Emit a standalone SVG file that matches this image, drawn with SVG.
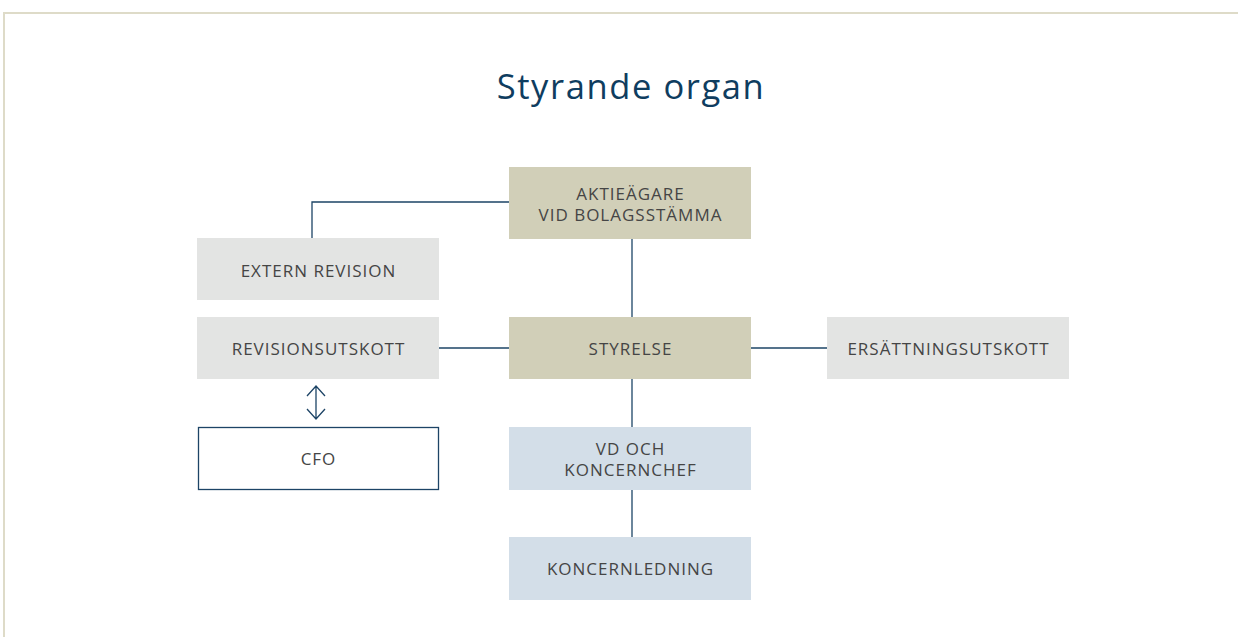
<svg xmlns="http://www.w3.org/2000/svg" width="1238" height="637" viewBox="0 0 1238 637">
<style>
.lbl{font-family:"Open Sans","Noto Sans",sans-serif;font-size:17px;letter-spacing:1px;fill:#454545;text-anchor:middle}
.ttl{font-family:"Open Sans","Noto Sans",sans-serif;font-size:34.5px;letter-spacing:1.6px;fill:#0f3d5f;text-anchor:middle}
.beige{fill:#d1cfb8}
.gray{fill:#e3e4e3}
.blue{fill:#d3dee8}
.con{stroke:#1d4466;stroke-width:1.3;fill:none}
</style>
<rect x="0" y="0" width="1238" height="637" fill="#ffffff"/>
<path d="M4,637 V13 H1238" fill="none" stroke="#dedbc8" stroke-width="2"/>
<text class="ttl" x="631" y="99">Styrande organ</text>
<g id="connectors">
<path class="con" d="M312,238 V202 H509"/>
<path class="con" d="M632,238 V317"/>
<path class="con" d="M632,379 V427"/>
<path class="con" d="M632,490 V537"/>
<path class="con" d="M439,348 H509"/>
<path class="con" d="M751,348 H827"/>
<path class="con" d="M316,386 V419 M307,396 L316,386 L325,396 M307,409 L316,419 L325,409"/>
</g>
<g id="aktieagare">
<rect class="beige" x="509" y="167" width="242" height="72"/>
<text class="lbl"><tspan x="630.5" y="199.5">AKTIEÄGARE</tspan><tspan x="630.5" y="220.5">VID BOLAGSSTÄMMA</tspan></text>
</g>
<g id="extern-revision">
<rect class="gray" x="197" y="238" width="242" height="62"/>
<text class="lbl" x="318.5" y="276.5">EXTERN REVISION</text>
</g>
<g id="revisionsutskott">
<rect class="gray" x="197" y="317" width="242" height="62"/>
<text class="lbl" x="318.5" y="355">REVISIONSUTSKOTT</text>
</g>
<g id="cfo">
<rect x="198.5" y="427.5" width="240" height="62" fill="#ffffff" stroke="#1d4466" stroke-width="1.3"/>
<text class="lbl" x="318.5" y="465">CFO</text>
</g>
<g id="styrelse">
<rect class="beige" x="509" y="317" width="242" height="62"/>
<text class="lbl" x="630.5" y="355">STYRELSE</text>
</g>
<g id="ersattningsutskott">
<rect class="gray" x="827" y="317" width="242" height="62"/>
<text class="lbl" x="948.5" y="355">ERSÄTTNINGSUTSKOTT</text>
</g>
<g id="vd">
<rect class="blue" x="509" y="427" width="242" height="63"/>
<text class="lbl"><tspan x="630.5" y="455">VD OCH</tspan><tspan x="630.5" y="476">KONCERNCHEF</tspan></text>
</g>
<g id="koncernledning">
<rect class="blue" x="509" y="537" width="242" height="63"/>
<text class="lbl" x="630.5" y="575">KONCERNLEDNING</text>
</g>
</svg>
